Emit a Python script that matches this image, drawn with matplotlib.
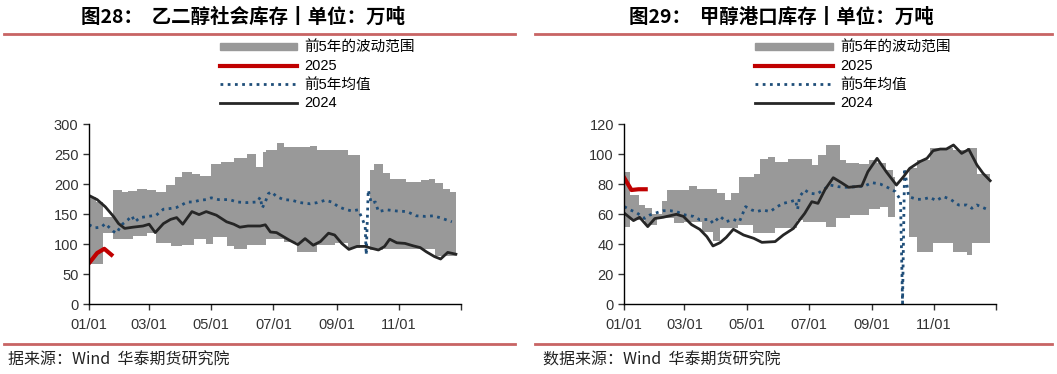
import numpy as np
import matplotlib
matplotlib.use("Agg")
import matplotlib.pyplot as plt
from matplotlib.lines import Line2D
from matplotlib.patches import Patch

plt.rcParams['font.family'] = ['Liberation Sans', 'Noto Sans CJK SC', 'DejaVu Sans']

# ---- 数据 (横轴为一年中的第几天) ----
month_ticks = [0, 59, 120, 181, 243, 304, 365]
month_labels = ['01/01', '03/01', '05/01', '07/01', '09/01', '11/01', '']

# 图28 乙二醇
eg_band_days = [0, 7, 14, 24, 32, 38, 43, 47, 57, 66, 76, 80, 84, 91, 101, 103, 109, 115, 120, 122,
                130, 135, 142, 155, 164, 171, 174, 184, 191, 204, 217, 224, 241, 254, 266, 272,
                276, 280, 288, 295, 311, 326, 334, 339, 347, 354, 360]
eg_band_lo = [67, 67, 118, 108, 108, 108, 113, 113, 118, 102, 102, 97, 97, 98, 98, 108, 108, 100, 100, 112,
              112, 96, 92, 98, 98, 98, 109, 109, 104, 87, 87, 98, 101, 93, 82, np.nan,
              90, 90, 92, 92, 92, 92, 92, 80, 80, 80, 80]
eg_band_hi = [178, 170, 145, 190, 186, 188, 188, 192, 190, 186, 198, 198, 211, 220, 217, 217, 214, 214, 233, 233,
              236, 236, 244, 250, 228, 253, 257, 268, 261, 261, 263, 257, 257, 248, 160, np.nan,
              223, 234, 218, 208, 204, 206, 209, 202, 191, 187, 187]
eg_2025_days = [1, 8, 15, 22]
eg_2025 = [70, 85, 92, 82]
eg_mean_days = [0, 6, 12, 16, 19, 24, 27, 32, 38, 42, 45, 50, 58, 66, 73, 79, 86, 91, 96, 102,
                109, 115, 120, 127, 138, 145, 155, 165, 168, 170, 173, 176, 179, 184, 191, 199, 207, 217, 224, 232,
                238, 245, 251, 258, 264, 268, 271, 272, 274, 277, 281, 284, 292, 302, 312, 321, 330, 338, 346, 356]
eg_mean = [132, 127, 128, 134, 129, 121, 118, 132, 140, 147, 137, 144, 146, 148, 158, 159, 161, 165, 170, 170,
           173, 174, 177, 174, 174, 170, 169, 170, 178, 160, 170, 184, 187, 179, 174, 173, 169, 167, 169, 173,
           170, 162, 158, 155, 157, 143, 129, 82, 190, 168, 170, 154, 157, 155, 154, 147, 146, 147, 143, 137]
eg_2024_days = [1, 8, 16, 24, 29, 35, 43, 53, 59, 65, 73, 80, 86, 92, 101, 108, 115, 125, 135, 142,
                148, 156, 168, 173, 178, 184, 191, 197, 205, 212, 220, 227, 235, 241, 248, 255, 263, 271, 277, 284,
                290, 295, 302, 310, 318, 325, 331, 339, 345, 352, 360]
eg_2024 = [180, 174, 162, 146, 134, 126, 128, 130, 133, 119, 134, 141, 144, 133, 154, 149, 154, 148, 137, 133,
           128, 130, 130, 132, 120, 119, 112, 106, 99, 109, 98, 104, 118, 115, 101, 91, 96, 96, 93, 90,
           96, 108, 102, 101, 97, 94, 87, 79, 75, 86, 83]

# 图29 甲醇
me_band_days = [0, 6, 14, 20, 27, 32, 37, 42, 49, 59, 63, 71, 76, 87, 91, 94, 99, 105, 112, 113,
                126, 127, 133, 141, 148, 161, 169, 175, 184, 190, 198, 208, 212, 218, 221, 230, 240, 248, 251, 257,
                259, 264, 266, 270, 279, 287, 300, 303, 323, 336, 341, 346, 359]
me_band_lo = [51.6, 56, 56, 52.7, 52.7, 57.1, 57.1, 57.1, 54.2, 55, 55, 55, 48.2, 41.8, 41.8, 50.4, 50.4, 50.4, 52.7, 52.7,
              47.5, 47.5, 47.5, 47.5, 50.4, 50.4, 56.2, 55, 55, 55, 51.1, 57.1, 57.1, 57.1, 59.3, 59.3, 63.1, 63.1, 64.9, 64.9,
              58.2, 58.2, 49.3, np.nan, 44.9, 34.9, 34.9, 40.4, 34.9, 32.7, 40.4, 40.4, 40.4]
me_band_hi = [88, 73, 66, 64, 60, 60, 69, 76, 76, 76, 78.7, 76.4, 76.4, 76.4, 73.8, 73.8, 69.3, 73.8, 73.8, 85,
              85, 87, 97, 98, 95, 97, 97, 97, 92.7, 99.3, 106, 106, 96, 94.2, 94.2, 93.3, 96, 93.8, 93.8, 89.3,
              89.3, 85, 85, np.nan, 90.4, 96, 103.8, 103.8, 102.7, 103.8, 103.8, 87, 87]
me_2025_days = [0, 7, 14, 21]
me_2025 = [84, 76, 76.5, 76.5]
me_mean_days = [0, 6, 12, 20, 25, 32, 38, 45, 51, 60, 68, 74, 84, 87, 94, 100, 107, 113, 119, 125,
                130, 136, 143, 150, 156, 163, 168, 170, 172, 177, 182, 189, 195, 202, 210, 218, 228, 236, 243, 251,
                257, 266, 271, 273, 275, 279, 287, 293, 300, 306, 313, 320, 328, 336, 341, 346, 356]
me_mean = [64.9, 62.7, 60.9, 57.1, 59.3, 60.9, 62.2, 62.2, 61.6, 59.3, 58.4, 56.2, 56.4, 53.8, 58.4, 54.9, 56.4, 54.9, 64.9, 62.7,
           61.6, 62.7, 61.6, 64.9, 67.1, 68.2, 69.3, 63.1, 71.6, 76, 73.8, 73.3, 76, 79.3, 78.2, 77.8, 78.2, 78.7, 80.9, 80,
           78.2, 74.9, 69.3, 0.5, 90.4, 71.6, 69.8, 69.8, 71.1, 68.9, 71.6, 69.8, 66, 66, 63.8, 66, 63.1]
me_2024_days = [1, 9, 15, 23, 30, 38, 51, 58, 66, 74, 81, 87, 94, 100, 107, 117, 127, 135, 148, 156,
                166, 172, 177, 184, 190, 197, 205, 213, 220, 233, 239, 248, 257, 267, 274, 280, 290, 297, 303, 310,
                316, 323, 331, 338, 346, 352, 359]
me_2024 = [60, 55.6, 57.8, 51.6, 57, 57.8, 59.8, 58.4, 52.9, 49.8, 44.9, 38.7, 40.9, 44.4, 49.8, 46, 43.8, 41.1, 41.6, 46,
           50.4, 56, 60.4, 68.2, 67.1, 76.4, 84.2, 80.9, 77.8, 78.7, 88.2, 97.1, 88.2, 79.3, 84.9, 90.4, 94.9, 97.1, 102.2, 103.3,
           103.3, 106, 100.4, 103.1, 92.7, 87.1, 82.2]

BAND = '#999999'
RED = '#C00000'
BLUE = '#1F4E79'
BLACK = '#262626'
RULE = '#C86464'

W, H = 1057, 374
fig = plt.figure(figsize=(W / 100, H / 100), dpi=100)


def draw_panel(x0, title, title_cx, band, red, mean, black, ylim, yticks, src, src_x, rule_x):
    ax = fig.add_axes([x0 / W, 1 - 304 / H, 372 / W, 180 / H])
    ax.fill_between(band[0], band[1], band[2], step='post', color=BAND, lw=0)
    ax.plot(mean[0], mean[1], color=BLUE, lw=2, ls=(0, (1, 1.6)))
    ax.plot(black[0], black[1], color=BLACK, lw=2)
    ax.plot(red[0], red[1], color=RED, lw=3)
    ax.set_xlim(0, 365)
    ax.set_ylim(*ylim)
    ax.set_yticks(yticks)
    ax.set_xticks(month_ticks)
    ax.set_xticklabels(month_labels)
    for s in ['top', 'right']:
        ax.spines[s].set_visible(False)
    for s in ['left', 'bottom']:
        ax.spines[s].set_color('black')
        ax.spines[s].set_linewidth(1)
    ax.tick_params(labelsize=10.5, colors='#333333', length=4, width=1, direction='out')
    ax.tick_params(axis='x', pad=6)

    handles = [Patch(color=BAND), Line2D([], [], color=RED, lw=3),
               Line2D([], [], color=BLUE, lw=2, ls=(0, (1, 1.6))), Line2D([], [], color=BLACK, lw=2)]
    labels = ['前5年的波动范围', '2025', '前5年均值', '2024']
    fig.legend(handles, labels, loc='upper left', bbox_to_anchor=((x0 + 131) / W, 1 - 41 / H),
               frameon=False, fontsize=10.5, handlelength=5.3, handleheight=0.4, labelspacing=0.3,
               handletextpad=0.5, borderaxespad=0, borderpad=0)

    fig.text(title_cx / W, 1 - 17 / H, title, ha='center', va='center', fontsize=14, fontweight='bold',
             family=['Noto Sans CJK SC', 'DejaVu Sans'])
    fig.add_artist(Line2D([rule_x[0] / W, rule_x[1] / W], [1 - 34 / H] * 2, color=RULE, lw=2))
    fig.add_artist(Line2D([rule_x[0] / W, rule_x[1] / W], [1 - 344 / H] * 2, color=RULE, lw=2))
    fig.text(src_x / W, 1 - 360 / H, src, ha='left', va='center', fontsize=11.5,
             family=['Noto Sans CJK SC', 'DejaVu Sans'], color='#222222')


draw_panel(89, '图28：  乙二醇社会库存丨单位：万吨', 243,
           (eg_band_days, eg_band_lo, eg_band_hi), (eg_2025_days, eg_2025),
           (eg_mean_days, eg_mean), (eg_2024_days, eg_2024),
           (0, 300), [0, 50, 100, 150, 200, 250, 300], '据来源：Wind  华泰期货研究院', 8, (4, 515))
draw_panel(624.3, '图29：  甲醇港口库存丨单位：万吨', 781,
           (me_band_days, me_band_lo, me_band_hi), (me_2025_days, me_2025),
           (me_mean_days, me_mean), (me_2024_days, me_2024),
           (0, 120), [0, 20, 40, 60, 80, 100, 120], '数据来源：Wind  华泰期货研究院', 543, (535, 1052))

fig.savefig('out.png', dpi=100)
